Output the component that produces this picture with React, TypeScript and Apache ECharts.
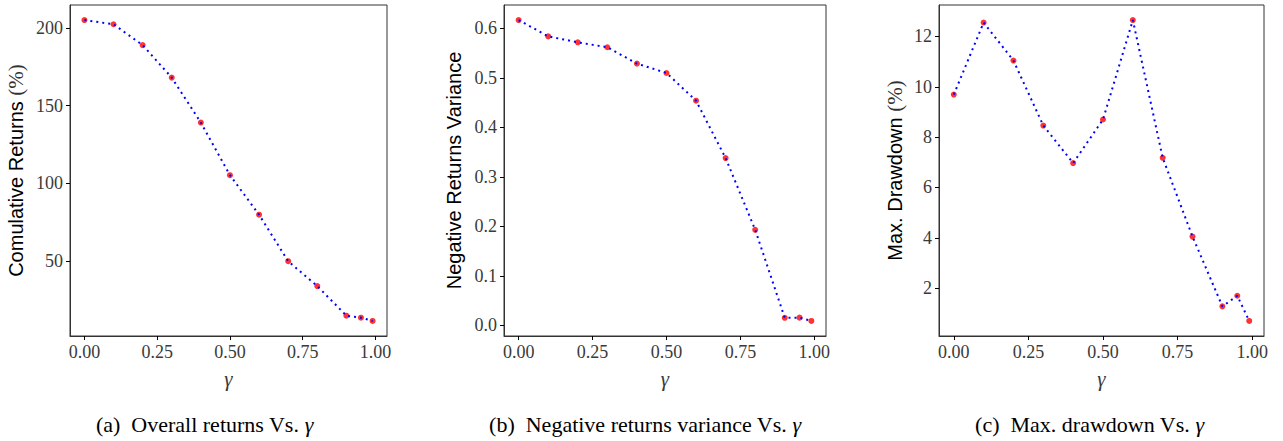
import React, { useEffect, useRef } from "react";
import * as echarts from "echarts";

const gammas = [0, 0.1, 0.2, 0.3, 0.4, 0.5, 0.6, 0.7, 0.8, 0.9, 0.95, 0.99];
const cumReturns = [205, 202.3, 188.9, 168.0, 139.1, 105.3, 79.9, 50.0, 34.0, 15.0, 13.7, 11.6];
const negVariance = [0.617, 0.584, 0.572, 0.562, 0.529, 0.51, 0.454, 0.338, 0.193, 0.015, 0.0154, 0.0087];
const maxDrawdown = [9.69, 12.55, 11.04, 8.46, 6.97, 8.7, 12.65, 7.18, 4.05, 1.28, 1.7, 0.7];

const xTicks = [0, 0.25, 0.5, 0.75, 1.0];
const yTicks1 = [50, 100, 150, 200];
const yTicks2 = [0, 0.1, 0.2, 0.3, 0.4, 0.5, 0.6];
const yTicks3 = [2, 4, 6, 8, 10, 12];

const yNames = ["Comulative Returns {s|(%)}", "Negative Returns Variance", "Max. Drawdown {s|(%)}"];
const captions = [
  "(a)  Overall returns Vs. {g|γ}",
  "(b)  Negative returns variance Vs. {g|γ}",
  "(c)  Max. drawdown Vs. {g|γ}",
];

function bounds(vals: number[]) {
  const lo = Math.min(...vals);
  const hi = Math.max(...vals);
  const m = (hi - lo) * 0.05;
  return [lo - m, hi + m];
}

export default function App() {
  const ref = useRef<HTMLDivElement>(null);
  useEffect(() => {
    if (!ref.current) return;
    const chart = echarts.init(ref.current, undefined, { renderer: "svg" });
    const grids = [
      { left: 70, top: 5, width: 317, height: 331 },
      { left: 504, top: 5, width: 322, height: 331 },
      { left: 939, top: 5, width: 325, height: 331 },
    ];
    const series = [cumReturns, negVariance, maxDrawdown];
    const yTicks = [yTicks1, yTicks2, yTicks3];
    const yFmt = [
      (v: number) => String(Math.round(v)),
      (v: number) => v.toFixed(1),
      (v: number) => String(Math.round(v)),
    ];
    const nameGaps = [44, 40, 34];
    const xb = bounds(gammas);
    const tickFont = { fontFamily: "Liberation Serif", fontSize: 18, color: "#3a3a3a" };
    const option: any = {
      animation: false,
      grid: grids.map((g) => ({ ...g, show: true, borderColor: "#333", borderWidth: 1, containLabel: false })),
      xAxis: grids.map((_, i) => ({
        type: "value",
        gridIndex: i,
        min: xb[0],
        max: xb[1],
        name: "γ",
        nameLocation: "middle",
        nameGap: 32,
        nameTextStyle: { fontFamily: "Liberation Serif", fontStyle: "italic", fontSize: 21, color: "#3a3a3a" },
        axisLine: { show: true, onZero: false, lineStyle: { color: "#333", width: 1 } },
        axisTick: { show: true, length: 4, inside: false, customValues: xTicks, lineStyle: { color: "#000" } },
        axisLabel: { ...tickFont, margin: 7, customValues: xTicks, formatter: (v: number) => v.toFixed(2) },
        splitLine: { show: false },
      })),
      yAxis: grids.map((_, i) => {
        const b = bounds(series[i]);
        return {
          type: "value",
          gridIndex: i,
          min: b[0],
          max: b[1],
          name: yNames[i],
          nameLocation: "middle",
          nameGap: nameGaps[i],
          nameTextStyle: {
            fontFamily: "Liberation Sans",
            fontSize: 20,
            color: "#000",
            rich: { s: { fontFamily: "Liberation Serif", fontSize: 21, color: "#333" } },
          },
          axisLine: { show: true, onZero: false, lineStyle: { color: "#333", width: 1 } },
          axisTick: { show: true, length: 4, inside: false, customValues: yTicks[i], lineStyle: { color: "#000" } },
          axisLabel: { ...tickFont, margin: 7, customValues: yTicks[i], formatter: yFmt[i] },
          splitLine: { show: false },
        };
      }),
      series: series.flatMap((vals, i) => {
        const data = gammas.map((g, k) => [g, vals[k]]);
        return [
          {
            type: "scatter",
            xAxisIndex: i,
            yAxisIndex: i,
            data,
            symbol: "circle",
            symbolSize: 6,
            itemStyle: { color: "#ff0000" },
            z: 2,
          },
          {
            type: "line",
            xAxisIndex: i,
            yAxisIndex: i,
            data,
            showSymbol: false,
            lineStyle: { color: "#0000ff", width: 2, type: [2, 4], cap: "butt" },
            z: 3,
          },
        ];
      }),
      graphic: captions.map((c, i) => ({
        type: "text",
        x: [204.5, 645, 1089.5][i],
        y: 424,
        style: {
          text: c,
          fontFamily: "Liberation Serif",
          fontSize: 22,
          fill: "#000",
          textAlign: "center",
          textVerticalAlign: "middle",
          rich: { g: { fontFamily: "Liberation Serif", fontStyle: "italic", fontSize: 22, fill: "#000" } },
        },
      })),
    };
    chart.setOption(option);
    return () => chart.dispose();
  }, []);
  return (
    <div
      ref={ref}
      style={{ position: "fixed", left: 0, top: 0, width: 1283, height: 441, background: "#fff" }}
    />
  );
}
